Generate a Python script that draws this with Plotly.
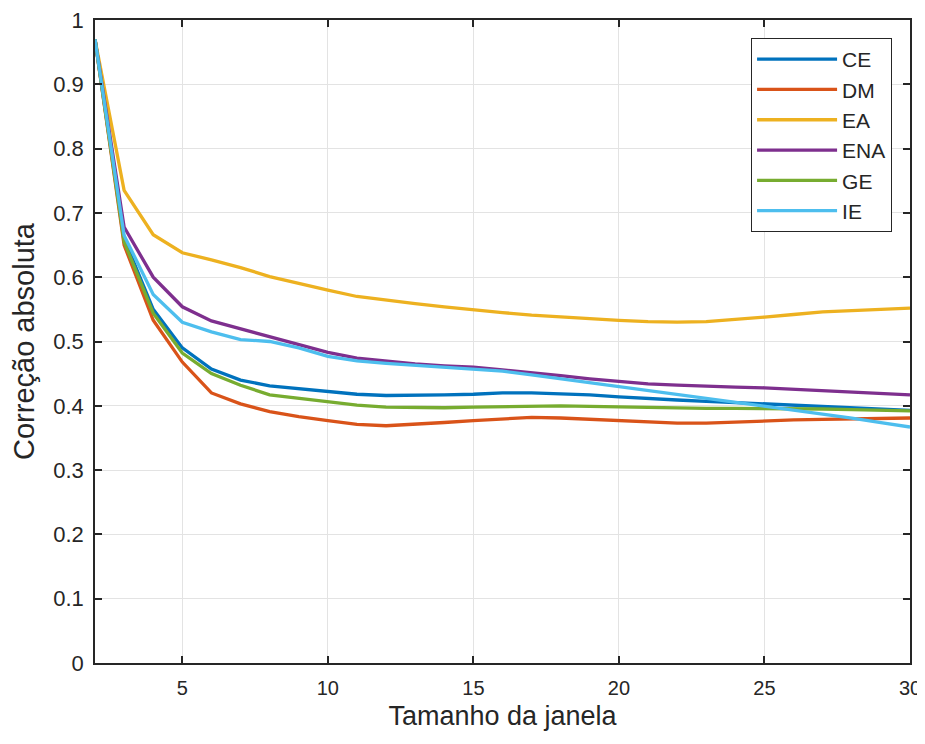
import plotly.graph_objects as go

janela = list(range(2, 31))

CE = [0.97, 0.66, 0.55, 0.49, 0.457, 0.44, 0.431, 0.427, 0.423, 0.418, 0.416, 0.416, 0.417, 0.418, 0.42, 0.42,
      0.419, 0.417, 0.414, 0.411, 0.409, 0.407, 0.405, 0.403, 0.401, 0.399, 0.397, 0.395, 0.393]
DM = [0.97, 0.65, 0.533, 0.468, 0.42, 0.403, 0.391, 0.383, 0.377, 0.371, 0.369, 0.371, 0.374, 0.377, 0.38, 0.382,
      0.381, 0.379, 0.377, 0.375, 0.373, 0.373, 0.375, 0.377, 0.378, 0.379, 0.380, 0.381, 0.381]
EA = [0.97, 0.735, 0.666, 0.638, 0.627, 0.615, 0.601, 0.59, 0.58, 0.57, 0.564, 0.559, 0.554, 0.549, 0.545, 0.541,
      0.538, 0.535, 0.533, 0.531, 0.530, 0.531, 0.534, 0.538, 0.542, 0.546, 0.548, 0.550, 0.552]
ENA = [0.97, 0.678, 0.600, 0.554, 0.532, 0.520, 0.507, 0.495, 0.483, 0.474, 0.469, 0.465, 0.462, 0.460, 0.456, 0.452,
       0.447, 0.442, 0.438, 0.434, 0.432, 0.430, 0.429, 0.428, 0.426, 0.424, 0.422, 0.420, 0.417]
GE = [0.97, 0.655, 0.544, 0.482, 0.45, 0.432, 0.417, 0.412, 0.407, 0.401, 0.398, 0.397, 0.397, 0.398, 0.399, 0.4,
      0.4, 0.399, 0.398, 0.397, 0.396, 0.396, 0.396, 0.396, 0.396, 0.395, 0.394, 0.393, 0.392]
IE = [0.97, 0.665, 0.573, 0.530, 0.515, 0.503, 0.500, 0.490, 0.477, 0.470, 0.466, 0.463, 0.460, 0.458, 0.454, 0.448,
      0.442, 0.436, 0.430, 0.424, 0.418, 0.412, 0.406, 0.400, 0.394, 0.388, 0.381, 0.374, 0.367]

series_names = ["CE", "DM", "EA", "ENA", "GE", "IE"]
series_values = [CE, DM, EA, ENA, GE, IE]
colors = ["#0072BD", "#D95319", "#EDB120", "#7E2F8E", "#77AC30", "#4DBEEE"]

x_ticks = [5, 10, 15, 20, 25, 30]
y_ticks = [0, 0.1, 0.2, 0.3, 0.4, 0.5, 0.6, 0.7, 0.8, 0.9, 1]
y_tick_labels = ["0", "0.1", "0.2", "0.3", "0.4", "0.5", "0.6", "0.7", "0.8", "0.9", "1"]

FONT = "Liberation Sans, Arial, sans-serif"
AX = "#262626"
GRID = "#e3e3e3"

fig = go.Figure()
for name, vals, c in zip(series_names, series_values, colors):
    fig.add_trace(go.Scatter(x=janela, y=vals, mode="lines", name=name,
                             line=dict(color=c, width=3.3)))

axis_common = dict(ticks="inside", ticklen=7, tickcolor=AX, tickwidth=1.5,
                   showline=True, linecolor=AX, linewidth=1.5, mirror="ticks",
                   showgrid=True, gridcolor=GRID, gridwidth=1, zeroline=False,
                   automargin=False, ticklabeloverflow="allow")

# page body has an 8px offset, so the figure is sized to fit the window without scrolling
fig.update_layout(
    width=912, height=728,
    margin=dict(l=87, r=10, t=12, b=73),
    paper_bgcolor="white", plot_bgcolor="white",
    font=dict(family=FONT, color=AX, size=20),
    legend=dict(x=0.978, y=0.972, xanchor="right", yanchor="top",
                bordercolor=AX, borderwidth=1, bgcolor="white",
                font=dict(size=21, family=FONT, color=AX),
                tracegroupgap=0, itemwidth=80),
    xaxis=dict(range=[2, 30], tickvals=x_ticks, ticklabelstandoff=6,
               tickfont=dict(size=20, color=AX),
               title=dict(text="Tamanho da janela", font=dict(size=27, color=AX), standoff=8),
               **axis_common),
    yaxis=dict(range=[0, 1], tickvals=y_ticks, ticktext=y_tick_labels, ticklabelstandoff=5,
               tickfont=dict(size=22, color=AX),
               title=dict(text="Correção absoluta", font=dict(size=29, color=AX), standoff=10),
               **axis_common),
)

fig.write_html("out.html")
